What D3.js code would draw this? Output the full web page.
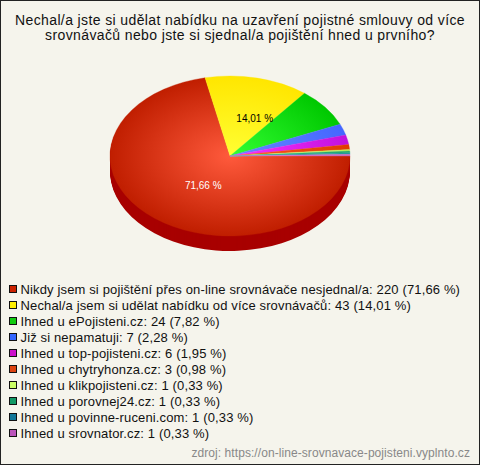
<!DOCTYPE html>
<html>
<head>
<meta charset="utf-8">
<script src="https://cdn.jsdelivr.net/npm/d3@7"></script>
<style>
  html, body { margin: 0; padding: 0; background: #f5f4ec; }
  svg { display: block; font-family: "Liberation Sans", Arial, sans-serif; }
</style>
</head>
<body>
<div id="chart"></div>
<script>
// Data
const titleLines = [
  'Nechal/a jste si udělat nabídku na uzavření pojistné smlouvy od více',
  'srovnávačů nebo jste si sjednal/a pojištění hned u prvního?'
];
const categories = [
  'Nikdy jsem si pojištění přes on-line srovnávače nesjednal/a',
  'Nechal/a jsem si udělat nabídku od více srovnávačů',
  'Ihned u ePojisteni.cz',
  'Již si nepamatuji',
  'Ihned u top-pojisteni.cz',
  'Ihned u chytryhonza.cz',
  'Ihned u klikpojisteni.cz',
  'Ihned u porovnej24.cz',
  'Ihned u povinne-ruceni.com',
  'Ihned u srovnator.cz'
];
const counts = [220, 43, 24, 7, 6, 3, 1, 1, 1, 1];
const percents = ['71,66', '14,01', '7,82', '2,28', '1,95', '0,98', '0,33', '0,33', '0,33', '0,33'];
const swatchColors = ['#cc2200', '#ffee00', '#11cc11', '#3366ff', '#cc11cc', '#dd4411', '#ccff66', '#119966', '#117799', '#bb55bb'];
const centerColors = ['#ff5a3c', '#ffff33', '#33ff33', '#6688ff', '#ff33ff', '#ff5522', '#eeff88', '#33bb88', '#33aaaa', '#dd77dd'];
const edgeColors = ['#c01e00', '#ffe600', '#00c800', '#4466ff', '#c011dd', '#e03c00', '#bbee55', '#22aa66', '#229999', '#cc66bb'];
const sideColor = '#a80000';
const source = 'zdroj: https://on-line-srovnavace-pojisteni.vyplnto.cz';

const width = 480;
const height = 465;
const cx = 230;
const cy = 156;
const rx = 120;
const ry = 80;
const depth = 15;

const svg = d3
  .select('#chart')
  .append('svg')
  .attr('width', width)
  .attr('height', height);

// frame
svg
  .append('rect')
  .attr('x', 0.5)
  .attr('y', 0.5)
  .attr('width', width - 1)
  .attr('height', height - 1)
  .attr('fill', '#f5f4ec')
  .attr('stroke', '#222');

// title
svg
  .append('g')
  .selectAll('text')
  .data(titleLines)
  .join('text')
  .attr('x', 240)
  .attr('y', (d, i) => 25 + i * 15)
  .attr('text-anchor', 'middle')
  .attr('font-size', 14)
  .attr('letter-spacing', 0.38)
  .attr('fill', '#111')
  .text((d) => d);

const defs = svg.append('defs');
defs
  .selectAll('radialGradient')
  .data(categories)
  .join('radialGradient')
  .attr('id', (d, i) => `slice${i}`)
  .attr('gradientUnits', 'userSpaceOnUse')
  .attr('cx', 0)
  .attr('cy', 0)
  .attr('r', rx)
  .call((g) =>
    g
      .append('stop')
      .attr('offset', 0)
      .attr('stop-color', (d, i) => centerColors[i])
  )
  .call((g) =>
    g
      .append('stop')
      .attr('offset', 1)
      .attr('stop-color', (d, i) => edgeColors[i])
  );

// starts at 3 o'clock, goes clockwise
const pie = d3
  .pie()
  .sort(null)
  .startAngle(Math.PI / 2)
  .endAngle(Math.PI / 2 + 2 * Math.PI);
const arcs = pie(counts);
const arc = d3.arc().innerRadius(0).outerRadius(rx);

// side wall, only the front half shows
const flatten = `scale(1, ${ry / rx})`;
svg
  .append('g')
  .selectAll('path')
  .data(d3.range(depth, 0, -1))
  .join('path')
  .attr('transform', (d) => `translate(${cx}, ${cy + d}) ${flatten}`)
  .attr('d', arc(arcs[0]))
  .attr('fill', sideColor);

// thin stroke in the slice colour hides the seams between the tiny slices
svg
  .append('g')
  .attr('transform', `translate(${cx}, ${cy}) ${flatten}`)
  .selectAll('path')
  .data(arcs)
  .join('path')
  .attr('d', arc)
  .attr('fill', (d, i) => `url(#slice${i})`)
  .attr('stroke', (d, i) => `url(#slice${i})`)
  .attr('stroke-width', 0.4);

// labels, only the two big slices have one
const labelAt = (d) => {
  const a = (d.startAngle + d.endAngle) / 2;
  return [cx + (rx / 2) * Math.sin(a) + 11, cy - 38 * Math.cos(a) + 3];
};
svg
  .append('g')
  .selectAll('text')
  .data(arcs.slice(0, 2))
  .join('text')
  .attr('x', (d) => labelAt(d)[0])
  .attr('y', (d) => labelAt(d)[1])
  .attr('text-anchor', 'middle')
  .attr('font-size', 10)
  .attr('fill', (d, i) => (i === 0 ? '#fff' : '#000'))
  .text((d, i) => `${percents[i]} %`);

// legend
const legendY = d3.scalePoint(d3.range(categories.length), [289, 433]);
const legend = svg
  .append('g')
  .selectAll('g')
  .data(categories)
  .join('g')
  .attr('transform', (d, i) => `translate(10, ${legendY(i)})`);
legend
  .append('rect')
  .attr('x', -0.5)
  .attr('y', -3.5)
  .attr('width', 7)
  .attr('height', 7)
  .attr('fill', (d, i) => swatchColors[i])
  .attr('stroke', '#111');
legend
  .append('text')
  .attr('x', 10.5)
  .attr('y', 5)
  .attr('font-size', 13)
  .attr('letter-spacing', 0.14)
  .attr('fill', '#111')
  .text((d, i) => `${d}: ${counts[i]} (${percents[i]} %)`);

svg
  .append('text')
  .attr('x', 470)
  .attr('y', 457)
  .attr('text-anchor', 'end')
  .attr('font-size', 12)
  .attr('letter-spacing', 0.07)
  .attr('fill', '#888')
  .text(source);
</script>
</body>
</html>
